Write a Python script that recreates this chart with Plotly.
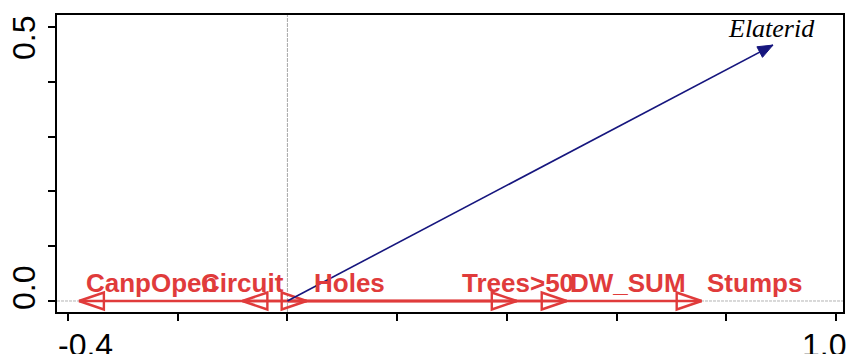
import plotly.graph_objects as go

# Species vector
species = ["Elaterid"]
species_x = [0.885]
species_y = [0.467]

# Environmental variable vectors (axis 1 scores, axis 2 scores)
env_names = ["CanpOpen", "Circuit", "Holes", "Trees>50", "DW_SUM", "Stumps"]
env_x = [-0.380, -0.082, 0.035, 0.418, 0.509, 0.755]
env_y = [0.0, 0.0, 0.0, 0.0, 0.0, 0.0]

# Axis ticks
x_ticks = [-0.4, -0.2, 0.0, 0.2, 0.4, 0.6, 0.8, 1.0]
y_ticks = [0.0, 0.1, 0.2, 0.3, 0.4, 0.5]

W, H = 850, 354
ML, MR, MT, MB = 57, 5, 15, 42
XR = [-0.42, 1.0127]
YR = [-0.0201, 0.5219]
px_x = (W - ML - MR) / (XR[1] - XR[0])
px_y = (H - MT - MB) / (YR[1] - YR[0])

RED = "#e03b3b"
NAVY = "#16167e"

fig = go.Figure()


def head(x0, y0, x1, y1, length, half):
    """Triangle vertices (data units) for an arrow head at (x1, y1)."""
    dx, dy = (x1 - x0) * px_x, (y1 - y0) * px_y
    n = (dx * dx + dy * dy) ** 0.5
    ux, uy = dx / n, dy / n
    bx, by = -ux * length, -uy * length
    pts = [(0, 0), (bx - uy * half, by + ux * half), (bx + uy * half, by - ux * half), (0, 0)]
    return ([x1 + p[0] / px_x for p in pts], [y1 + p[1] / px_y for p in pts])


# Environmental arrows: shafts and open heads
for name, x, y in zip(env_names, env_x, env_y):
    fig.add_trace(go.Scatter(x=[0, x], y=[0, y], mode="lines",
                             line=dict(color=RED, width=2.6), hoverinfo="skip"))
    hx, hy = head(0, 0, x, y, 25, 8.5)
    fig.add_trace(go.Scatter(x=hx, y=hy, mode="lines",
                             line=dict(color=RED, width=2.4), hoverinfo="skip"))

# Species arrow with filled head
for name, x, y in zip(species, species_x, species_y):
    fig.add_trace(go.Scatter(x=[0, x], y=[0, y], mode="lines",
                             line=dict(color=NAVY, width=1.6), hoverinfo="skip"))
    hx, hy = head(0, 0, x, y, 15, 6)
    fig.add_trace(go.Scatter(x=hx, y=hy, mode="lines", fill="toself",
                             fillcolor=NAVY, line=dict(color=NAVY, width=1),
                             hoverinfo="skip"))

annotations = []
# Environmental labels: anchor side and pixel shift from the arrow tip
label_anchor = ["left", "center", "left", "center", "left", "left"]
label_shift = [5, 0, 5, 1, 1, 3]
for name, x, anc, sh in zip(env_names, env_x, label_anchor, label_shift):
    annotations.append(dict(x=x, y=0, xref="x", yref="y", text=name, showarrow=False,
                            xanchor=anc, yanchor="middle", xshift=sh, yshift=18,
                            font=dict(family="Liberation Sans, Arial", size=26,
                                      color=RED, weight="bold")))

for name, x, y in zip(species, species_x, species_y):
    annotations.append(dict(x=x, y=y, xref="x", yref="y", text="<i>" + name + "</i>",
                            showarrow=False, xanchor="center", yanchor="middle",
                            xshift=-1, yshift=17,
                            font=dict(family="Liberation Serif, Times New Roman",
                                      size=26, color="black")))

# Tick labels (only at the extremes)
AX_FONT = dict(family="Liberation Sans, Arial", size=32, color="black")
annotations.append(dict(x=x_ticks[0], y=0, xref="x", yref="paper", text="-0.4",
                        showarrow=False, xanchor="center", yanchor="middle",
                        xshift=18, yshift=-33, font=AX_FONT))
annotations.append(dict(x=x_ticks[-1], y=0, xref="x", yref="paper", text="1.0",
                        showarrow=False, xanchor="center", yanchor="middle",
                        xshift=-12, yshift=-33, font=AX_FONT))
annotations.append(dict(x=0, y=y_ticks[-1], xref="paper", yref="y", text="0.5",
                        showarrow=False, xanchor="center", yanchor="middle",
                        xshift=-33, yshift=-11, textangle=-90, font=AX_FONT))
annotations.append(dict(x=0, y=y_ticks[0], xref="paper", yref="y", text="0.0",
                        showarrow=False, xanchor="center", yanchor="middle",
                        xshift=-33, yshift=13, textangle=-90, font=AX_FONT))

shapes = [
    dict(type="line", xref="x", yref="paper", x0=0, x1=0, y0=0, y1=1,
         line=dict(color="#a8a8a8", width=1, dash="4px,1px"), layer="below"),
    dict(type="line", xref="paper", yref="y", x0=0, x1=1, y0=0, y1=0,
         line=dict(color="#b4b4b4", width=1, dash="3px,1px"), layer="below"),
]

fig.update_layout(
    width=W, height=H,
    margin=dict(l=ML, r=MR, t=MT, b=MB),
    paper_bgcolor="white", plot_bgcolor="white",
    showlegend=False,
    annotations=annotations,
    shapes=shapes,
    xaxis=dict(range=XR, tickvals=x_ticks, showticklabels=False, ticks="outside",
               ticklen=7, tickwidth=1.8, tickcolor="black", showgrid=False,
               zeroline=False, showline=True, linecolor="black", linewidth=2,
               mirror=True, fixedrange=True),
    yaxis=dict(range=YR, tickvals=y_ticks, showticklabels=False, ticks="outside",
               ticklen=7, tickwidth=1.8, tickcolor="black", showgrid=False,
               zeroline=False, showline=True, linecolor="black", linewidth=2,
               mirror=True, fixedrange=True),
)

fig.write_html("out.html")
